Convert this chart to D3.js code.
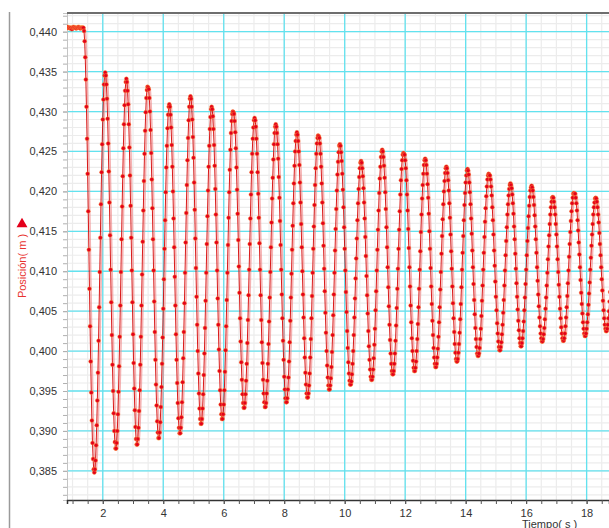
<!DOCTYPE html>
<html>
<head>
<meta charset="utf-8">
<script src="https://cdn.jsdelivr.net/npm/d3@7"></script>
<style>
  body { margin: 0; background: #fff; }
  svg { display: block; font-family: "Liberation Sans", Arial, sans-serif; }
</style>
</head>
<body>
<svg id="chart" width="609" height="528"></svg>
<script>
// sampled position of the spring (data logger, 50 Hz)
const sampleStart = 0.80;   // s
const sampleStep = 0.02;    // s
const positionMm = [
  // resting at top, then released
  440.5, 440.5, 440.6, 440.5, 440.5, 440.5, 440.4, 440.5, 440.5, 440.3, 440.5, 440.5, 440.6, 440.5, 440.5,
  440.5, 440.4, 440.5, 440.5, 440.5, 440.6, 440.5, 440.5, 440.4, 440.5, 440.5, 440.5, 440.5, 440.5,
  440.1, 438.8, 436.8, 434.0, 430.6, 426.6, 422.2, 417.5, 412.7, 407.8, 403.1, 398.7, 394.8, 391.3, 388.5, 386.5, 385.2, 384.8,
  385.2, 386.3, 388.2, 390.7, 393.8, 397.3, 401.3, 405.5, 409.9, 414.2, 418.4, 422.4, 425.9, 429.0, 431.5, 433.4, 434.5, 434.9,
  // oscillation
  434.5, 433.4, 431.6, 429.1, 426.0, 422.5, 418.6, 414.5, 410.2, 406.1, 402.0, 398.3, 395.0, 392.2, 390.0, 388.6, 387.8,
  387.8, 388.5, 390.0, 392.1, 394.9, 398.1, 401.8, 405.7, 409.9, 414.0, 418.1, 421.9, 425.4, 428.4, 430.8, 432.6, 433.7, 434.1,
  433.7, 432.6, 430.9, 428.4, 425.5, 422.0, 418.2, 414.2, 410.1, 406.1, 402.1, 398.5, 395.3, 392.6, 390.5, 389.0, 388.3,
  388.3, 389.0, 390.4, 392.5, 395.1, 398.3, 401.8, 405.7, 409.6, 413.7, 417.6, 421.3, 424.7, 427.6, 429.9, 431.7, 432.7, 433.1,
  433.0, 432.8, 431.7, 430.0, 427.7, 424.8, 421.5, 417.9, 414.0, 410.1, 406.2, 402.4, 398.9, 395.8, 393.2, 391.2, 389.8, 389.1,
  389.1, 389.8, 391.1, 393.0, 395.5, 398.4, 401.7, 405.3, 409.0, 412.8, 416.4, 419.9, 423.0, 425.7, 427.9, 429.6, 430.6, 430.9,
  430.6, 429.6, 428.0, 425.8, 423.1, 420.0, 416.6, 413.0, 409.3, 405.7, 402.1, 398.9, 396.0, 393.5, 391.6, 390.4, 389.7,
  389.7, 390.4, 391.7, 393.6, 396.1, 399.1, 402.4, 406.0, 409.8, 413.6, 417.3, 420.8, 423.9, 426.7, 428.9, 430.6, 431.6, 431.9,
  431.6, 430.6, 429.0, 426.8, 424.2, 421.1, 417.7, 414.1, 410.4, 406.8, 403.3, 400.0, 397.2, 394.7, 392.8, 391.5, 390.9,
  390.9, 391.5, 392.8, 394.6, 397.0, 399.7, 402.9, 406.3, 409.8, 413.4, 416.9, 420.1, 423.1, 425.7, 427.8, 429.3, 430.3, 430.6,
  430.3, 429.4, 427.8, 425.8, 423.2, 420.3, 417.1, 413.6, 410.1, 406.6, 403.3, 400.2, 397.5, 395.1, 393.3, 392.1, 391.5,
  391.5, 392.1, 393.3, 395.1, 397.4, 400.1, 403.1, 406.4, 409.8, 413.3, 416.7, 419.9, 422.7, 425.2, 427.3, 428.8, 429.7, 430.0,
  429.9, 429.7, 428.8, 427.4, 425.4, 423.0, 420.2, 417.2, 413.9, 410.6, 407.3, 404.1, 401.2, 398.6, 396.4, 394.6, 393.5, 392.9,
  392.9, 393.5, 394.6, 396.3, 398.4, 401.0, 403.9, 407.0, 410.2, 413.4, 416.6, 419.6, 422.4, 424.7, 426.6, 428.0, 428.9, 429.2,
  428.9, 428.1, 426.6, 424.7, 422.4, 419.7, 416.7, 413.5, 410.2, 407.0, 403.9, 401.1, 398.5, 396.4, 394.7, 393.6, 393.0,
  393.0, 393.5, 394.7, 396.3, 398.4, 400.9, 403.7, 406.7, 409.9, 413.0, 416.1, 419.1, 421.7, 424.0, 425.9, 427.3, 428.1, 428.4,
  428.1, 427.3, 425.9, 424.1, 421.8, 419.2, 416.3, 413.3, 410.2, 407.1, 404.1, 401.3, 398.9, 396.8, 395.2, 394.1, 393.6,
  393.6, 394.1, 395.2, 396.7, 398.7, 401.1, 403.8, 406.7, 409.7, 412.7, 415.7, 418.5, 421.0, 423.2, 425.0, 426.3, 427.1, 427.4,
  427.1, 426.3, 425.0, 423.3, 421.1, 418.6, 415.9, 413.0, 410.0, 407.1, 404.2, 401.6, 399.2, 397.3, 395.8, 394.7, 394.2,
  394.2, 394.7, 395.7, 397.2, 399.2, 401.5, 404.1, 406.9, 409.8, 412.8, 415.6, 418.3, 420.8, 422.9, 424.7, 426.0, 426.7, 427.0,
  426.9, 426.7, 426.0, 424.7, 423.1, 421.0, 418.6, 416.0, 413.2, 410.3, 407.5, 404.8, 402.3, 400.0, 398.2, 396.7, 395.7, 395.2,
  395.2, 395.7, 396.6, 398.0, 399.9, 402.0, 404.5, 407.1, 409.8, 412.6, 415.3, 417.8, 420.1, 422.1, 423.7, 424.9, 425.7, 425.9,
  425.7, 424.9, 423.8, 422.2, 420.2, 418.0, 415.5, 412.8, 410.1, 407.4, 404.9, 402.5, 400.4, 398.6, 397.2, 396.3, 395.8,
  395.8, 396.2, 397.1, 398.4, 400.0, 402.0, 404.2, 406.6, 409.1, 411.6, 414.1, 416.4, 418.5, 420.3, 421.8, 422.9, 423.6, 423.8,
  423.6, 422.9, 421.9, 420.4, 418.6, 416.6, 414.3, 411.9, 409.4, 407.0, 404.7, 402.5, 400.6, 398.9, 397.7, 396.8, 396.4,
  396.4, 396.8, 397.7, 399.1, 400.8, 402.8, 405.1, 407.5, 410.1, 412.7, 415.2, 417.6, 419.8, 421.6, 423.1, 424.3, 425.0, 425.2,
  425.0, 424.3, 423.2, 421.7, 419.9, 417.8, 415.5, 413.0, 410.5, 408.0, 405.6, 403.3, 401.4, 399.7, 398.4, 397.5, 397.1,
  397.1, 397.5, 398.4, 399.7, 401.3, 403.2, 405.4, 407.8, 410.3, 412.8, 415.2, 417.5, 419.6, 421.4, 422.8, 423.9, 424.6, 424.8,
  424.7, 424.6, 423.9, 422.9, 421.4, 419.6, 417.6, 415.3, 412.9, 410.5, 408.1, 405.7, 403.6, 401.6, 400.0, 398.8, 397.9, 397.5,
  397.5, 397.9, 398.7, 400.0, 401.5, 403.4, 405.5, 407.8, 410.2, 412.5, 414.9, 417.1, 419.1, 420.8, 422.2, 423.3, 423.9, 424.1,
  423.9, 423.3, 422.2, 420.9, 419.2, 417.2, 415.0, 412.8, 410.4, 408.1, 405.9, 403.8, 402.0, 400.4, 399.2, 398.4, 398.0,
  398.0, 398.4, 399.2, 400.3, 401.8, 403.6, 405.5, 407.7, 409.9, 412.2, 414.4, 416.5, 418.4, 420.0, 421.3, 422.3, 422.9, 423.1,
  422.9, 422.3, 421.4, 420.1, 418.5, 416.7, 414.6, 412.5, 410.3, 408.1, 406.0, 404.1, 402.4, 400.9, 399.8, 399.0, 398.7,
  398.7, 399.0, 399.8, 400.9, 402.3, 404.0, 405.9, 408.0, 410.2, 412.3, 414.4, 416.4, 418.3, 419.8, 421.1, 422.0, 422.6, 422.8,
  422.6, 422.1, 421.1, 419.9, 418.4, 416.6, 414.7, 412.6, 410.5, 408.4, 406.4, 404.6, 402.9, 401.5, 400.5, 399.7, 399.4,
  399.4, 399.7, 400.4, 401.5, 402.8, 404.4, 406.3, 408.2, 410.2, 412.3, 414.3, 416.2, 417.9, 419.4, 420.6, 421.5, 422.0, 422.2,
  422.1, 422.0, 421.5, 420.6, 419.5, 418.0, 416.4, 414.6, 412.6, 410.7, 408.7, 406.8, 405.1, 403.5, 402.2, 401.2, 400.5, 400.1,
  400.1, 400.5, 401.1, 402.1, 403.3, 404.8, 406.4, 408.2, 410.1, 412.0, 413.8, 415.5, 417.1, 418.4, 419.5, 420.3, 420.8, 421.0,
  420.8, 420.4, 419.6, 418.5, 417.2, 415.6, 414.0, 412.2, 410.3, 408.5, 406.8, 405.2, 403.8, 402.6, 401.6, 401.0, 400.6,
  400.6, 401.0, 401.6, 402.5, 403.7, 405.1, 406.7, 408.4, 410.2, 412.0, 413.8, 415.4, 416.9, 418.2, 419.3, 420.1, 420.5, 420.7,
  420.5, 420.1, 419.3, 418.3, 417.0, 415.6, 414.0, 412.3, 410.5, 408.8, 407.1, 405.6, 404.2, 403.1, 402.2, 401.6, 401.2,
  401.2, 401.5, 402.1, 402.9, 404.0, 405.3, 406.7, 408.2, 409.8, 411.5, 413.1, 414.5, 415.9, 417.1, 418.0, 418.7, 419.2, 419.3,
  419.2, 418.7, 418.0, 417.1, 415.9, 414.6, 413.1, 411.5, 409.9, 408.3, 406.8, 405.3, 404.1, 403.0, 402.2, 401.6, 401.3,
  401.3, 401.6, 402.2, 403.1, 404.2, 405.5, 406.9, 408.5, 410.1, 411.8, 413.4, 414.9, 416.3, 417.5, 418.5, 419.2, 419.7, 419.8,
  419.7, 419.7, 419.2, 418.5, 417.6, 416.4, 415.1, 413.6, 412.1, 410.5, 408.9, 407.3, 405.9, 404.7, 403.6, 402.8, 402.2, 401.9,
  401.9, 402.2, 402.8, 403.6, 404.6, 405.8, 407.2, 408.6, 410.2, 411.7, 413.2, 414.6, 415.9, 417.1, 418.0, 418.6, 419.1, 419.2,
  419.1, 418.7, 418.0, 417.1, 416.1, 414.8, 413.4, 412.0, 410.5, 409.0, 407.6, 406.3, 405.1, 404.1, 403.3, 402.8, 402.5,
  402.5, 402.8, 403.3, 404.1, 405.0, 406.2, 407.4
];

const xTicks = [2, 4, 6, 8, 10, 12, 14, 16, 18];
const yTicks = [0.385, 0.390, 0.395, 0.400, 0.405, 0.410, 0.415, 0.420, 0.425, 0.430, 0.435, 0.440];
const xTitle = "Tiempo( s )";
const yTitle = "Posición( m )";

var width = 609, height = 528;
var plotLeft = 67, plotRight = 609, plotTop = 13, plotBottom = 500;
var red = "#e3001b", cyan = "#62e2ef";

var locale = d3.formatLocale({ decimal: ",", thousands: ".", grouping: [3], currency: ["", ""] });
var fmtY = locale.format(".3f");

var points = positionMm.map((v, i) => ({ t: sampleStart + i * sampleStep, v: v / 1000 }));

var x = d3.scaleLinear().domain([0.817, 18.74]).range([plotLeft, plotRight]);
var y = d3.scaleLinear().domain([0.38135, 0.44234]).range([plotBottom, plotTop]);

var svg = d3.select("#chart");

// outer frame line at the left
svg.append("line")
    .attr("x1", 9.5).attr("x2", 9.5)
    .attr("y1", 12).attr("y2", height)
    .attr("stroke", "#9a9a9a").attr("stroke-width", 1.5);

svg.append("defs").append("clipPath").attr("id", "plotClip")
    .append("rect")
    .attr("x", plotLeft).attr("y", plotTop)
    .attr("width", plotRight - plotLeft).attr("height", plotBottom - plotTop);

// minor grid
var xMinor = d3.range(1, 19, 0.5);
var yMinor = d3.range(382, 443).map(d => d / 1000);

var grid = svg.append("g").attr("clip-path", "url(#plotClip)");
grid.selectAll(".vminor").data(xMinor).enter().append("line")
    .attr("x1", d => x(d)).attr("x2", d => x(d))
    .attr("y1", plotTop).attr("y2", plotBottom)
    .attr("stroke", "#ececec").attr("stroke-width", 1.2);
grid.selectAll(".hminor").data(yMinor).enter().append("line")
    .attr("x1", plotLeft).attr("x2", plotRight)
    .attr("y1", d => y(d)).attr("y2", d => y(d))
    .attr("stroke", "#ececec").attr("stroke-width", 1.2);

// major grid
grid.selectAll(".vmajor").data(xTicks).enter().append("line")
    .attr("x1", d => x(d)).attr("x2", d => x(d))
    .attr("y1", plotTop).attr("y2", plotBottom)
    .attr("stroke", cyan).attr("stroke-width", 1.3);
grid.selectAll(".hmajor").data(yTicks).enter().append("line")
    .attr("x1", plotLeft).attr("x2", plotRight)
    .attr("y1", d => y(d)).attr("y2", d => y(d))
    .attr("stroke", cyan).attr("stroke-width", 1.3);

// left axis
var yMinorAxis = svg.append("g")
    .attr("transform", "translate(" + plotLeft + ",0)")
    .call(d3.axisLeft(y).tickValues(yMinor).tickSize(4).tickFormat(""));
yMinorAxis.select(".domain").attr("stroke", "#c4c4c4");
yMinorAxis.selectAll(".tick line").attr("stroke", "#b0b0b0");

var yAxis = svg.append("g")
    .attr("transform", "translate(" + plotLeft + ",0)")
    .call(d3.axisLeft(y).tickValues(yTicks).tickSize(4).tickPadding(6).tickFormat(fmtY));
yAxis.select(".domain").remove();
yAxis.selectAll(".tick line").attr("stroke", "#b0b0b0");
yAxis.selectAll("text")
    .attr("fill", "#333").style("font-size", "11px")
    .style("font-family", '"Liberation Sans", Arial, sans-serif');

// bottom axis
var xMinorAxis = svg.append("g")
    .attr("transform", "translate(0," + plotBottom + ")")
    .call(d3.axisBottom(x).tickValues(xMinor.filter(d => d > 0.817)).tickSize(4).tickFormat(""));
xMinorAxis.select(".domain").attr("stroke", "#333").attr("stroke-width", 1.5);
xMinorAxis.selectAll(".tick line").attr("stroke", "#555");

var xAxis = svg.append("g")
    .attr("transform", "translate(0," + plotBottom + ")")
    .call(d3.axisBottom(x).tickValues(xTicks).tickSize(4).tickPadding(5));
xAxis.select(".domain").remove();
xAxis.selectAll(".tick line").attr("stroke", "#555");
xAxis.selectAll("text")
    .attr("fill", "#333").style("font-size", "11px")
    .style("font-family", '"Liberation Sans", Arial, sans-serif');

// top border
svg.append("line")
    .attr("x1", plotLeft).attr("x2", plotRight)
    .attr("y1", plotTop).attr("y2", plotTop)
    .attr("stroke", "#6e6e6e").attr("stroke-width", 2);

// data
var line = d3.line().x(d => x(d.t)).y(d => y(d.v));
var series = svg.append("g").attr("clip-path", "url(#plotClip)");

series.append("path")
    .datum(points)
    .attr("d", line)
    .attr("transform", "translate(1.5,0)")
    .attr("fill", "none")
    .attr("stroke", "#f08a8a")
    .attr("stroke-opacity", 0.65)
    .attr("stroke-width", 1.6);

series.append("path")
    .datum(points)
    .attr("d", line)
    .attr("fill", "none")
    .attr("stroke", "#d60000")
    .attr("stroke-width", 0.9);

series.selectAll(".pt").data(points).enter().append("circle")
    .attr("class", "pt")
    .attr("cx", d => x(d.t))
    .attr("cy", d => y(d.v))
    .attr("r", 2)
    .attr("fill", red)
    .attr("stroke", "#ff9a3c")
    .attr("stroke-opacity", 0.7)
    .attr("stroke-width", 0.6);

// titles
svg.append("text")
    .attr("x", 522).attr("y", 527.5)
    .attr("fill", "#333")
    .style("font-size", "11px")
    .text(xTitle);

svg.append("path")
    .attr("d", d3.symbol(d3.symbolTriangle).size(52))
    .attr("transform", "translate(22,224)")
    .attr("fill", red);

svg.append("text")
    .attr("transform", "translate(26,266) rotate(-90)")
    .attr("text-anchor", "middle")
    .attr("fill", "#e8332f")
    .style("font-size", "11px")
    .text(yTitle);
</script>
</body>
</html>
